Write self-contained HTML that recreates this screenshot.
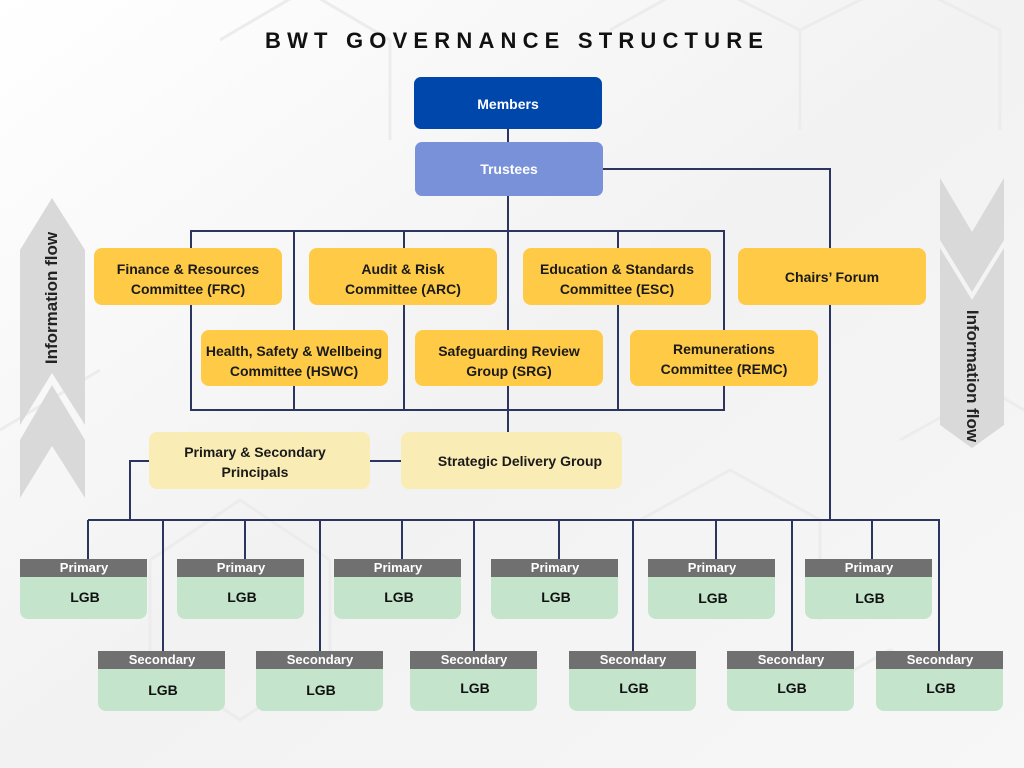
<!DOCTYPE html>
<html><head><meta charset="utf-8"><style>
html,body{margin:0;padding:0;width:1024px;height:768px;overflow:hidden;background:#f4f4f4;}
svg{display:block;font-family:"Liberation Sans",sans-serif;}
</style></head><body>
<svg width="1024" height="768" viewBox="0 0 1024 768" xmlns="http://www.w3.org/2000/svg">
<defs>
<linearGradient id="bg" x1="0" y1="0" x2="1" y2="1">
<stop offset="0" stop-color="#ffffff"/><stop offset="0.5" stop-color="#f2f2f2"/><stop offset="1" stop-color="#f7f7f7"/>
</linearGradient>
</defs>
<rect width="1024" height="768" fill="url(#bg)"/>
<g fill="none" stroke="#ececec" stroke-width="3">
<path d="M220 40 L305 -10 L390 40 L390 140 M610 30 L700 -20 L800 30 L800 130 M800 30 L900 -20 L1000 30 L1000 130"/>
<path d="M0 430 L100 370 M150 560 L240 500 L330 560 L330 660 L240 720 L150 660 Z M640 520 L730 470 L820 520 L820 620"/>
<path d="M900 440 L990 390 L1024 410 M800 700 L890 650 L980 700"/>
</g>
<text x="514" y="48" text-anchor="middle" font-size="22" font-weight="bold" fill="#111" textLength="498" lengthAdjust="spacing">BWT GOVERNANCE STRUCTURE</text>

<g fill="#d9d9d9">
<polygon points="20,250 52,198 85,250 85,425 52,373 20,425"/>
<polygon points="20,440 52,385 85,440 85,498 52,446 20,498"/>
<polygon points="940,178 972,232 1004,178 1004,240 972,292 940,240"/>
<polygon points="940,248 972,300 1004,248 1004,425 972,448 940,425"/>
</g>
<text transform="translate(57,298) rotate(-90)" text-anchor="middle" font-size="17" font-weight="bold" fill="#222">Information flow</text>
<text transform="translate(967,376) rotate(90)" text-anchor="middle" font-size="17" font-weight="bold" fill="#222">Information flow</text>

<g stroke="#2b3560" stroke-width="2" fill="none">
<line x1="508" y1="129" x2="508" y2="142"/>
<rect x="191" y="231" width="533" height="179"/>
<line x1="294" y1="231" x2="294" y2="410"/>
<line x1="404" y1="231" x2="404" y2="410"/>
<line x1="618" y1="231" x2="618" y2="410"/>
<line x1="508" y1="196" x2="508" y2="432"/>
<polyline points="603,169 830,169 830,520"/>
<line x1="370" y1="461" x2="401" y2="461"/>
<polyline points="149,461 130,461 130,520"/>
<line x1="88" y1="520" x2="940" y2="520"/>
<line x1="88" y1="520" x2="88" y2="559"/><line x1="245" y1="520" x2="245" y2="559"/><line x1="402" y1="520" x2="402" y2="559"/>
<line x1="559" y1="520" x2="559" y2="559"/><line x1="716" y1="520" x2="716" y2="559"/><line x1="872" y1="520" x2="872" y2="559"/>
<line x1="163" y1="520" x2="163" y2="651"/><line x1="320" y1="520" x2="320" y2="651"/><line x1="474" y1="520" x2="474" y2="651"/>
<line x1="633" y1="520" x2="633" y2="651"/><line x1="792" y1="520" x2="792" y2="651"/><line x1="939" y1="520" x2="939" y2="651"/>
</g>

<rect x="414" y="77" width="188" height="52" rx="7" fill="#0047ab"/>
<text x="508" y="109" text-anchor="middle" font-size="14" font-weight="bold" fill="#fff">Members</text>
<rect x="415" y="142" width="188" height="54" rx="7" fill="#7891d8"/>
<text x="509" y="174" text-anchor="middle" font-size="14" font-weight="bold" fill="#fff">Trustees</text>

<g fill="#ffca45">
<rect x="94" y="248" width="188" height="57" rx="8"/>
<rect x="309" y="248" width="188" height="57" rx="8"/>
<rect x="523" y="248" width="188" height="57" rx="8"/>
<rect x="738" y="248" width="188" height="57" rx="8"/>
<rect x="201" y="330" width="187" height="56" rx="8"/>
<rect x="415" y="330" width="188" height="56" rx="8"/>
<rect x="630" y="330" width="188" height="56" rx="8"/>
</g>
<g fill="#f9ecb4">
<rect x="149" y="432" width="221" height="57" rx="8"/>
<rect x="401" y="432" width="221" height="57" rx="8"/>
</g>
<g font-size="14" font-weight="bold" fill="#1a1a1a" text-anchor="middle">
<text x="188" y="274">Finance &amp; Resources</text><text x="188" y="294">Committee (FRC)</text>
<text x="403" y="274">Audit &amp; Risk</text><text x="403" y="294">Committee (ARC)</text>
<text x="617" y="274">Education &amp; Standards</text><text x="617" y="294">Committee (ESC)</text>
<text x="832" y="282">Chairs’ Forum</text>
<text x="294" y="356">Health, Safety &amp; Wellbeing</text><text x="294" y="376">Committee (HSWC)</text>
<text x="509" y="356">Safeguarding Review</text><text x="509" y="376">Group (SRG)</text>
<text x="724" y="354">Remunerations</text><text x="724" y="374">Committee (REMC)</text>
<text x="255" y="457">Primary &amp; Secondary</text><text x="255" y="477">Principals</text>
<text x="520" y="466">Strategic Delivery Group</text>
</g>

<g>
<path d="M20 577 H147 V611 a8 8 0 0 1 -8 8 H28 a8 8 0 0 1 -8 -8 Z" fill="#c4e5cc"/><rect x="20" y="559" width="127" height="18" fill="#707070"/>
<path d="M177 577 H304 V611 a8 8 0 0 1 -8 8 H185 a8 8 0 0 1 -8 -8 Z" fill="#c4e5cc"/><rect x="177" y="559" width="127" height="18" fill="#707070"/>
<path d="M334 577 H461 V611 a8 8 0 0 1 -8 8 H342 a8 8 0 0 1 -8 -8 Z" fill="#c4e5cc"/><rect x="334" y="559" width="127" height="18" fill="#707070"/>
<path d="M491 577 H618 V611 a8 8 0 0 1 -8 8 H499 a8 8 0 0 1 -8 -8 Z" fill="#c4e5cc"/><rect x="491" y="559" width="127" height="18" fill="#707070"/>
<path d="M648 577 H775 V611 a8 8 0 0 1 -8 8 H656 a8 8 0 0 1 -8 -8 Z" fill="#c4e5cc"/><rect x="648" y="559" width="127" height="18" fill="#707070"/>
<path d="M805 577 H932 V611 a8 8 0 0 1 -8 8 H813 a8 8 0 0 1 -8 -8 Z" fill="#c4e5cc"/><rect x="805" y="559" width="127" height="18" fill="#707070"/>
<path d="M98 669 H225 V703 a8 8 0 0 1 -8 8 H106 a8 8 0 0 1 -8 -8 Z" fill="#c4e5cc"/><rect x="98" y="651" width="127" height="18" fill="#707070"/>
<path d="M256 669 H383 V703 a8 8 0 0 1 -8 8 H264 a8 8 0 0 1 -8 -8 Z" fill="#c4e5cc"/><rect x="256" y="651" width="127" height="18" fill="#707070"/>
<path d="M410 669 H537 V703 a8 8 0 0 1 -8 8 H418 a8 8 0 0 1 -8 -8 Z" fill="#c4e5cc"/><rect x="410" y="651" width="127" height="18" fill="#707070"/>
<path d="M569 669 H696 V703 a8 8 0 0 1 -8 8 H577 a8 8 0 0 1 -8 -8 Z" fill="#c4e5cc"/><rect x="569" y="651" width="127" height="18" fill="#707070"/>
<path d="M727 669 H854 V703 a8 8 0 0 1 -8 8 H735 a8 8 0 0 1 -8 -8 Z" fill="#c4e5cc"/><rect x="727" y="651" width="127" height="18" fill="#707070"/>
<path d="M876 669 H1003 V703 a8 8 0 0 1 -8 8 H884 a8 8 0 0 1 -8 -8 Z" fill="#c4e5cc"/><rect x="876" y="651" width="127" height="18" fill="#707070"/>
</g>
<g font-size="13" font-weight="bold" fill="#fff" text-anchor="middle">
<text x="84" y="572">Primary</text><text x="241" y="572">Primary</text><text x="398" y="572">Primary</text>
<text x="555" y="572">Primary</text><text x="712" y="572">Primary</text><text x="869" y="572">Primary</text>
<text x="162" y="664">Secondary</text><text x="320" y="664">Secondary</text><text x="474" y="664">Secondary</text>
<text x="633" y="664">Secondary</text><text x="791" y="664">Secondary</text><text x="940" y="664">Secondary</text>
</g>
<g font-size="14" font-weight="bold" fill="#111" text-anchor="middle">
<text x="85" y="602">LGB</text><text x="242" y="602">LGB</text><text x="399" y="602">LGB</text>
<text x="556" y="602">LGB</text><text x="713" y="603">LGB</text><text x="870" y="603">LGB</text>
<text x="163" y="695">LGB</text><text x="321" y="695">LGB</text><text x="475" y="693">LGB</text>
<text x="634" y="693">LGB</text><text x="792" y="693">LGB</text><text x="941" y="693">LGB</text>
</g>
</svg>
</body></html>
